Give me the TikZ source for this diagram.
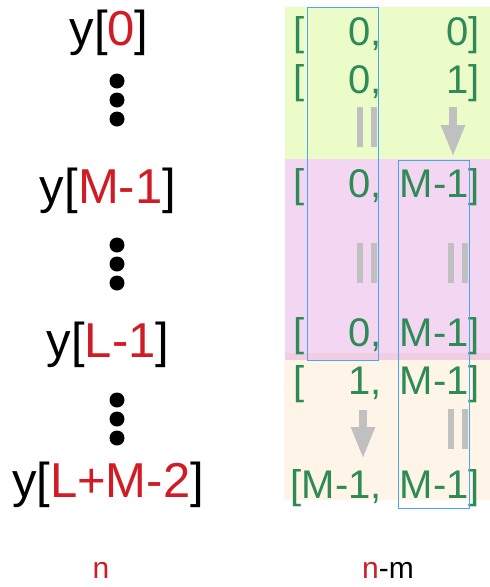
\documentclass[tikz,border=0pt]{standalone}
\usepackage{fontspec}
\setmainfont{Liberation Sans}
\usetikzlibrary{arrows.meta}
\definecolor{idxred}{HTML}{D01C24}
\definecolor{pairgreen}{HTML}{2E8B57}
\definecolor{bggreen}{HTML}{EBFCC9}
\definecolor{bgpink}{HTML}{F3D7F2}
\definecolor{bgband}{HTML}{F1CDE2}
\definecolor{bgorange}{HTML}{FEF4E8}
\definecolor{frameblue}{HTML}{4DA3F5}
\definecolor{bargray}{HTML}{C0C0C0}

\begin{document}
\begin{tikzpicture}[x=1pt,y=-1pt,>=latex,
  ylab/.style={anchor=base,inner sep=0pt,font=\fontsize{49}{58}\selectfont},
  pr/.style={inner sep=0pt,text=pairgreen,font=\fontsize{40}{48}\selectfont},
  bot/.style={anchor=base,inner sep=0pt,font=\fontsize{30}{36}\selectfont},
  garrow/.style={bargray,line width=8pt,-{Triangle[width=22pt,length=32pt]}},
  frm/.style={draw=frameblue,line width=1pt}]
  \useasboundingbox (0,0) rectangle (490,587);

  \fill[bggreen]  (285,7)   rectangle (490,159);
  \fill[bgpink]   (285,159) rectangle (490,353);
  \fill[bgband]   (285,353) rectangle (490,360);
  \fill[bgorange] (284,360) rectangle (490,500);

  \node[ylab] (y0)  at (109,45)  {y[\textcolor{idxred}{0}]};
  \node[ylab] (yM)  at (108,203) {y[\textcolor{idxred}{M-1}]};
  \node[ylab] (yL)  at (108,357) {y[\textcolor{idxred}{L-1}]};
  \node[ylab] (yLM) at (108,497) {y[\textcolor{idxred}{L+M-2}]};
  \foreach \dy in {81,100,119,245,264,283,400,419,438}
    \fill (117,\dy) circle (7.5);

  \node[pr,anchor=base west] (b1) at (293,45)  {[};
  \node[pr,anchor=base east] (i1) at (382,45)  {0,};
  \node[pr,anchor=base east] (j1) at (480,45)  {0]};
  \node[pr,anchor=base west] (b2) at (293,93)  {[};
  \node[pr,anchor=base east] (i2) at (382,93)  {0,};
  \node[pr,anchor=base east] (j2) at (480,93)  {1]};
  \node[pr,anchor=base west] (b3) at (293,197) {[};
  \node[pr,anchor=base east] (i3) at (382,197) {0,};
  \node[pr,anchor=base east] (j3) at (480,197) {M-1]};
  \node[pr,anchor=base west] (b4) at (293,346) {[};
  \node[pr,anchor=base east] (i4) at (382,346) {0,};
  \node[pr,anchor=base east] (j4) at (480,346) {M-1]};
  \node[pr,anchor=base west] (b5) at (293,394) {[};
  \node[pr,anchor=base east] (i5) at (382,394) {1,};
  \node[pr,anchor=base east] (j5) at (480,394) {M-1]};
  \node[pr,anchor=base east] (i6) at (382,498) {[M-1,};
  \node[pr,anchor=base east] (j6) at (480,498) {M-1]};

  \foreach \bx/\by in {357/107,357/243,448/243,448/409} {
    \fill[bargray] (\bx,\by) rectangle ++(6,40);
    \fill[bargray] (\bx+14,\by) rectangle ++(6,40);
  }
  \coordinate (a1) at (453,107);
  \coordinate (a2) at (453,157);
  \coordinate (c1) at (363,410);
  \coordinate (c2) at (363,459);
  \draw[garrow] (a1) -- (a2);
  \draw[garrow] (c1) -- (c2);

  \draw[frm] (307.5,7.5) rectangle (378.5,360.5);
  \draw[frm] (398.5,160.5) rectangle (469.5,508.5);

  \node[bot,text=idxred] (n)  at (101,578) {n};
  \node[bot] (nm) at (388,578) {\textcolor{idxred}{n}-m};
\end{tikzpicture}
\end{document}
